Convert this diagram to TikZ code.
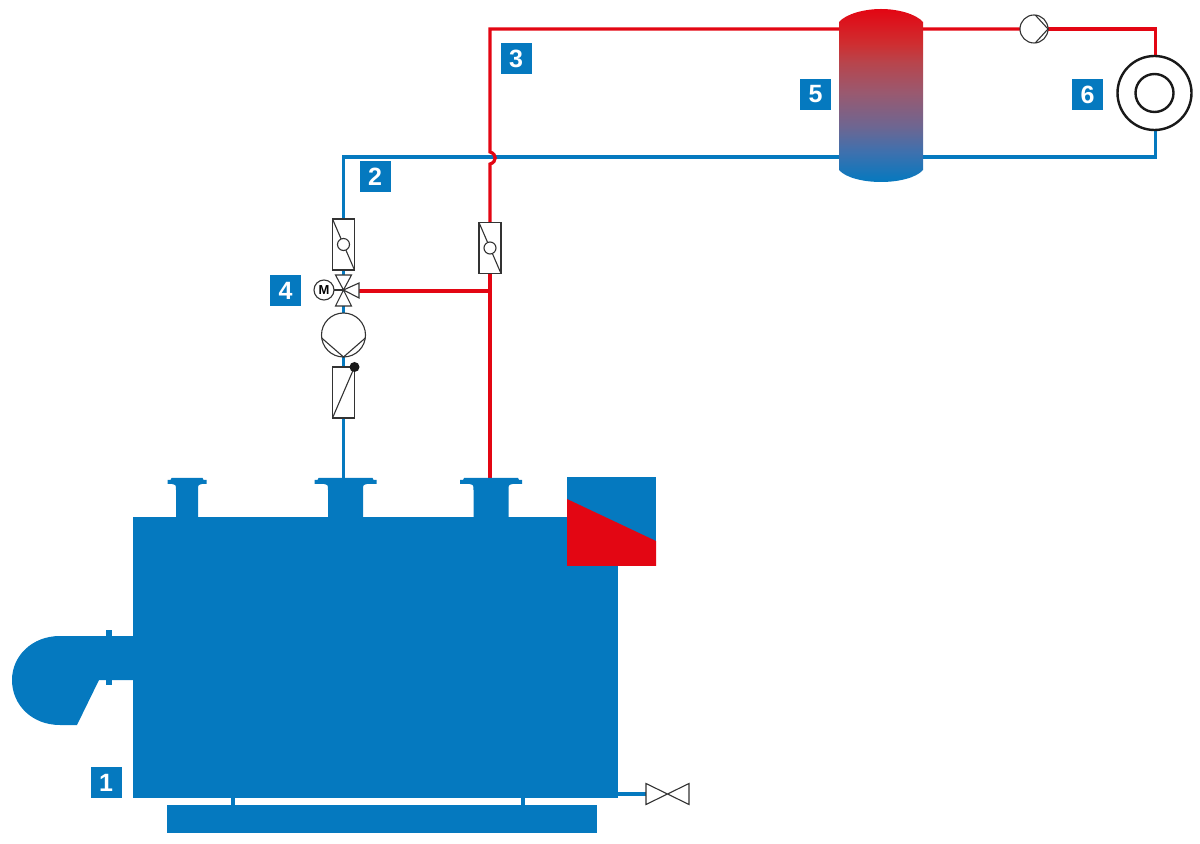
\documentclass[tikz,border=0pt]{standalone}
\usepackage{fontspec}
\setmainfont{Liberation Sans}
\usetikzlibrary{backgrounds,calc}

\definecolor{plantblue}{HTML}{0579BF}
\definecolor{plantred}{HTML}{E30613}
\pgfdeclareverticalshading{tankfade}{100bp}{
  color(0bp)=(plantblue); color(25bp)=(plantblue);
  rgb(34bp)=(.25,.44,.68); rgb(41bp)=(.43,.40,.57); rgb(50.75bp)=(.60,.35,.44);
  rgb(59.5bp)=(.72,.27,.30); rgb(65bp)=(.81,.18,.19);
  color(75bp)=(plantred); color(100bp)=(plantred)}

\tikzset{
  plantblock/.style={rectangle,fill=plantblue,inner sep=0pt,outer sep=0pt},
  tag/.style={plantblock,minimum size=15.5pt,text=white,font=\bfseries\fontsize{12.5}{12.5}\selectfont},
  flowpipe/.style={draw=plantred,line width=1.6pt},
  returnpipe/.style={draw=plantblue,line width=1.6pt},
  symbol/.style={draw=black!80,line width=.55pt},
  checkvalve/.style={rectangle,symbol,fill=white,inner sep=0pt,outer sep=0pt,minimum width=11pt,minimum height=25.5pt,
    path picture={
      \draw[symbol] (path picture bounding box.north west) -- (path picture bounding box.south east);
      \draw[symbol,fill=white] (path picture bounding box.center) circle (3pt);}},
  pump/.style={circle,symbol,fill=white,inner sep=0pt,outer sep=0pt}
}

\begin{document}
\begin{tikzpicture}[x=.5pt,y=-.5pt]
  \useasboundingbox (0,0) rectangle (1200,844);

  % boiler with burner, base and control box
  \node(boiler)    [plantblock,minimum width=242.5pt,minimum height=140.5pt] at (375.5,657.5) {};
  \node(base)      [plantblock,minimum width=215pt,minimum height=14pt] at (382,819) {};
  \fill[plantblue] (133,636) -- (60,636) .. controls (32,636) and (12,656) .. (12,680)
    .. controls (12,705) and (32,725) .. (60,725) -- (77,725) -- (99,680) -- (133,680) -- cycle;
  \fill[plantblue] (106,630) rectangle (112,685);
  \coordinate(legleft)  at (233,801);
  \coordinate(legright) at (523,801);
  \draw[returnpipe] (legleft |- boiler.south) -- (legleft |- base.north);
  \draw[returnpipe] (legright |- boiler.south) -- (legright |- base.north);

  \foreach \x/\flange/\neck in {187/19.5/11,345.5/31/17.5,491/31/17.5} {
    \fill[plantblue] (\x-\flange+4,478) -- (\x+\flange-4,478) -- (\x+\flange-3,480) -- (\x+\flange,480) -- (\x+\flange,484)
      -- (\x+\neck+4,484) .. controls (\x+\neck,485) .. (\x+\neck,490) -- (\x+\neck,518)
      -- (\x-\neck,518) -- (\x-\neck,490) .. controls (\x-\neck,485) .. (\x-\neck-4,484)
      -- (\x-\flange,484) -- (\x-\flange,480) -- (\x-\flange+3,480) -- cycle;
  }
  \coordinate(returnflange) at (343.5,478);
  \coordinate(flowflange)   at (490,478);

  \node(controlbox)[plantblock,minimum size=44.5pt] at (611.5,521.5) {};
  \fill[plantred] (567,499) -- (656,541) -- (656,566) -- (567,566) -- cycle;

  % drain
  \node(drain)[inner sep=0pt,outer sep=0pt,minimum width=21.5pt,minimum height=10.5pt] at (667.5,794) {};
  \draw[symbol] (drain.north west) -- (drain.south east) -- (drain.north east) -- (drain.south west) -- cycle;
  \coordinate(drainstart) at (618,794);

  % fittings on the two risers
  \node(lowcheck)   [rectangle,symbol,fill=white,inner sep=0pt,outer sep=0pt,minimum width=11pt,minimum height=25.5pt] at (343.5,392.5) {};
  \draw[symbol] (lowcheck.south west) -- (lowcheck.north east);
  \fill[black!90] (lowcheck.north east) circle (2.5pt);
  \node(returnpump) [pump,minimum size=22pt] at (343.5,335) {};
  \draw[symbol] (returnpump.188) -- (returnpump.south) -- (returnpump.-8);
  \node(returncheck)[checkvalve] at (343.5,244.5) {};
  \node(flowcheck)  [checkvalve] at (490,248) {};

  % mixing valve
  \coordinate(mixer)  at (343.5,290);
  \coordinate(mixred) at (359,291);
  \draw[symbol,fill=white] (mixer) -- (335.5,275) -- (351.5,275) -- cycle;
  \draw[symbol,fill=white] (mixer) -- (335.5,306) -- (351.5,306) -- cycle;
  \draw[symbol,fill=white] (mixer) -- (359,283) -- (359,298) -- cycle;
  \node(motor)[circle,symbol,fill=white,inner sep=0pt,outer sep=0pt,minimum size=10pt,font=\bfseries\fontsize{6.5}{6.5}\selectfont] at (324,290) {M};
  \draw[symbol] (motor) -- (mixer);

  % storage tank
  \shade[shading=tankfade] (839,22) .. controls (846,14) and (864,9) .. (881,9)
    .. controls (898,9) and (916,14) .. (923,22) -- (923,170)
    .. controls (916,178) and (898,182) .. (881,182) .. controls (864,182) and (846,178) .. (839,170) -- cycle;

  % heating circuit
  \node(loadpump)[pump,minimum size=14pt] at (1034,29) {};
  \draw[symbol] (loadpump.85) -- (loadpump.east) -- (loadpump.-85);
  \node(consumer)[circle,draw=black!90,line width=1.2pt,fill=white,inner sep=0pt,outer sep=0pt,minimum size=37pt] at (1154.5,93) {};
  \node(consumercore)[circle,draw=black!90,line width=1.2pt,inner sep=0pt,outer sep=0pt,minimum size=19pt] at (consumer) {};

  \coordinate(returncorner) at (343.5,157);
  \coordinate(tankreturn)   at (881,157);
  \coordinate(endreturn)    at (1155.5,157);
  \coordinate(flowcorner)   at (490,29);
  \coordinate(tankflow)     at (881,29);
  \coordinate(endflow)      at (1155.5,29);
  \coordinate(hopin)        at (490,152);
  \coordinate(hopout)       at (490,164);
  \coordinate(mixtee)       at (490,291);

  \begin{scope}[on background layer]
    % return side
    \draw[returnpipe] (returnflange) -- (lowcheck.south);
    \draw[returnpipe] (lowcheck.north) -- (returnpump.south);
    \draw[returnpipe] (returnpump.north) -- (returncheck.south);
    \draw[returnpipe] (returncheck.north) -- (returncorner) -- (tankreturn) -- (endreturn) -- (endreturn |- consumer.south);
    \draw[returnpipe] (drainstart) -- (drain.west);
    % flow side
    \draw[flowpipe] (flowflange) -- (flowcheck.south);
    \draw[flowpipe] (flowcheck.north) -- (hopout) .. controls ($(hopout)+(7,-2)$) and ($(hopin)+(7,2)$) .. (hopin) -- (flowcorner) -- (tankflow) -- (loadpump.west);
    \draw[flowpipe] (loadpump.east) -- (endflow) -- (endflow |- consumer.north);
    \draw[flowpipe] (mixtee) -- (mixred);
  \end{scope}

  % tags
  \node(tagone)  [tag] at (106,782.5) {1};
  \node(tagtwo)  [tag] at (375,176.5) {2};
  \node(tagthree)[tag] at (516,58.5)  {3};
  \node(tagfour) [tag] at (285.5,290.5) {4};
  \node(tagfive) [tag] at (815.5,94.5) {5};
  \node(tagsix)  [tag] at (1087.5,94.5) {6};
\end{tikzpicture}
\end{document}
